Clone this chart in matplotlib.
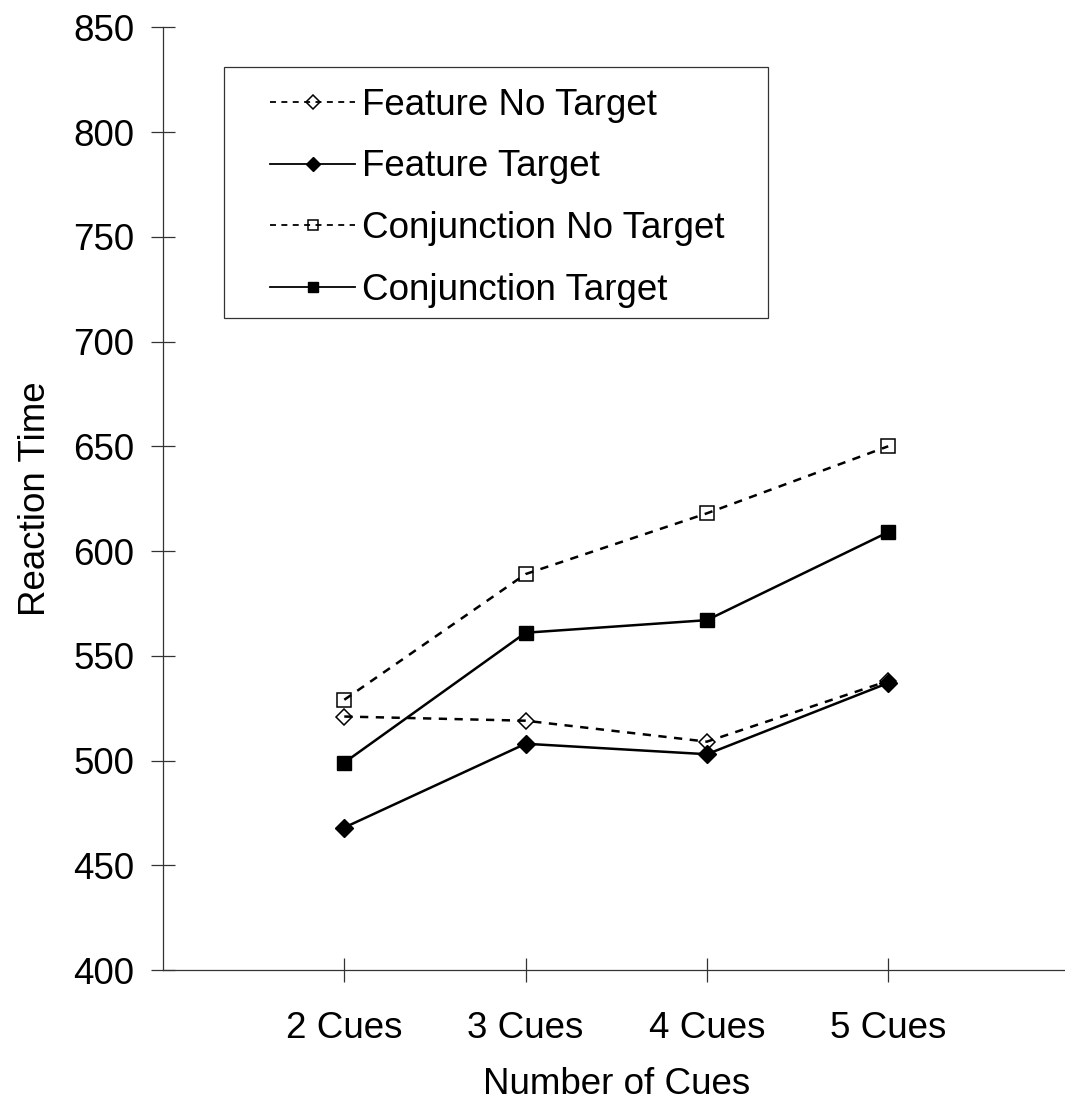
import matplotlib
matplotlib.use("Agg")
import matplotlib.pyplot as plt
from matplotlib.patches import Rectangle

categories = ["2 Cues", "3 Cues", "4 Cues", "5 Cues"]
feature_no_target = [521, 519, 509, 538]
feature_target = [468, 508, 503, 537]
conj_no_target = [529, 589, 618, 650]
conj_target = [499, 561, 567, 609]
yticks = [400, 450, 500, 550, 600, 650, 700, 750, 800, 850]

plt.rcParams['font.family'] = ['Liberation Sans', 'DejaVu Sans']

W, H = 1065, 1112
FS = 26.5
fig = plt.figure(figsize=(W / 100, H / 100), dpi=100)
x0, x1 = 163, 1069.5
y0, y1 = 970, 27.3
ax = fig.add_axes([x0 / W, 1 - y0 / H, (x1 - x0) / W, (y0 - y1) / H])

xs = list(range(1, len(categories) + 1))
lw = 1.8
dash = (3.3, 3.0)
ax.plot(xs, feature_no_target, color='black', lw=lw, dashes=dash, marker='D',
        ms=8.5, mfc='none', mec='black', mew=1.1, label='Feature No Target')
ax.plot(xs, feature_target, color='black', lw=lw, marker='D',
        ms=9.5, mfc='black', mec='black', label='Feature Target')
ax.plot(xs, conj_no_target, color='black', lw=lw, dashes=dash, marker='s',
        ms=10, mfc='none', mec='black', mew=1.1, label='Conjunction No Target')
ax.plot(xs, conj_target, color='black', lw=lw, marker='s',
        ms=10.5, mfc='black', mec='black', label='Conjunction Target')

ax.set_xlim(0, 5)
ax.set_ylim(400, 850)
ax.set_xticks(xs)
ax.set_xticklabels(categories)
ax.set_yticks(yticks)
for s in ['top', 'right']:
    ax.spines[s].set_visible(False)
for s in ['left', 'bottom']:
    ax.spines[s].set_linewidth(0.9)
    ax.spines[s].set_color('#333333')
ax.tick_params(axis='both', direction='inout', length=17, width=0.9,
               color='#333333', labelsize=FS)
ax.tick_params(axis='x', pad=21)
ax.tick_params(axis='y', pad=12)

ax.set_ylabel('Reaction Time', fontsize=FS, labelpad=15)
ax.set_xlabel('Number of Cues', fontsize=FS, labelpad=15)

# legend box
box = Rectangle((224 / W, 1 - 318 / H), (768 - 224) / W, (318 - 67) / H,
                transform=fig.transFigure, facecolor='white',
                edgecolor='#333333', lw=0.9, zorder=3, clip_on=False)
ax.add_patch(box)
leg = ax.legend(loc='upper left', bbox_to_anchor=(270 / W, 1 - 88 / H),
                bbox_transform=fig.transFigure, borderaxespad=0, borderpad=0,
                frameon=False, fontsize=FS,
                handlelength=2.31, handletextpad=0.19, labelspacing=0.72)
leg.set_zorder(6)
for h in leg.legend_handles:
    h.set_linewidth(1.3)
    h.set_markersize(7)

fig.savefig('out.png', dpi=100)
